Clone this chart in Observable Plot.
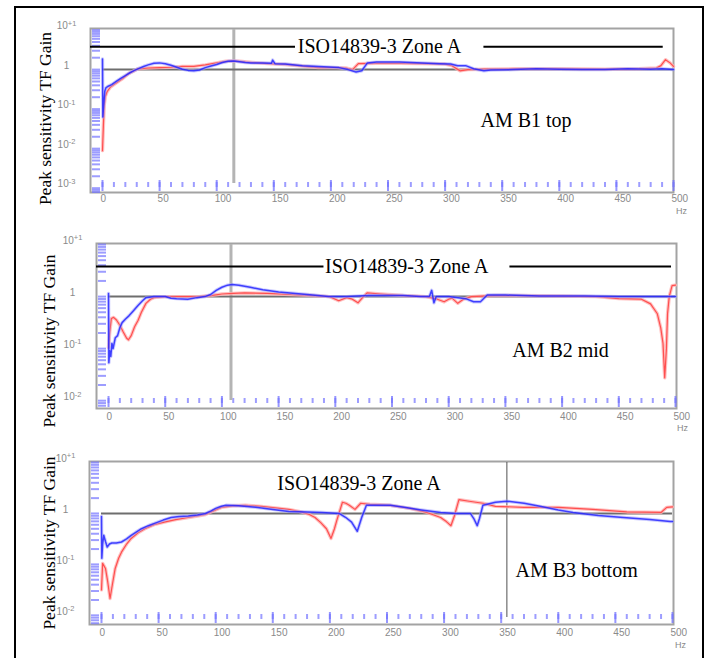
<!DOCTYPE html>
<html><head><meta charset="utf-8">
<script src="https://cdn.jsdelivr.net/npm/d3@7"></script>
<script src="https://cdn.jsdelivr.net/npm/@observablehq/plot@0.6"></script>
<style>
html,body{margin:0;padding:0;background:#fff;}
#wrap{position:relative;width:710px;height:658px;overflow:hidden;background:#fff;}
#border{position:absolute;left:14px;top:6px;width:690px;height:700px;border:2px solid #000;box-sizing:border-box;}
.panel{position:absolute;left:0;}
</style></head><body><div id="wrap"><div id="border"></div></div>
<script>
// ---------- chart content ----------
const freqMajorTicks = [0, 50, 100, 150, 200, 250, 300, 350, 400, 450, 500];
const freqMinorTicks = [0,10,20,30,40,50,60,70,80,90,100,110,120,130,140,150,160,170,180,190,200,210,220,230,240,250,260,270,280,290,300,310,320,330,340,350,360,370,380,390,400,410,420,430,440,450,460,470,480,490,500];
const gainTickValues = [10, 1, 0.1, 0.01, 0.001];
const gainTickLabels = ["10^+1", "1", "10^-1", "10^-2", "10^-3"];
const yAxisTitle = "Peak sensitivity TF Gain";
const xUnit = "Hz";
const zoneALabel = "ISO14839-3 Zone A";
const zoneAGain = 3.8;
const referenceGain = 1;
const panelNames = ["AM B1 top", "AM B2 mid", "AM B3 bottom"];
const cursorHz = [115, 108, 355];

// series: [frequency Hz, log10(gain)]
const amb1Blue = [[0,0.27],[0.3,-1.2],[1,-0.9],[2,-0.55],[3,-0.46],[5,-0.42],[8,-0.38],[12,-0.3],[16,-0.22],[20,-0.15],[24,-0.08],[28,-0.02],[32,0.03],[36,0.08],[40,0.12],[45,0.16],[50,0.17],[55,0.15],[60,0.11],[65,0.06],[70,0.01],[75,-0.02],[80,-0.03],[85,-0.01],[90,0.05],[95,0.09],[100,0.13],[105,0.18],[110,0.21],[115,0.22],[120,0.2],[125,0.18],[130,0.17],[140,0.17],[148,0.16],[149,0.24],[151,0.15],[160,0.14],[175,0.1],[189,0.08],[207,0.05],[215,0.0],[222,-0.06],[227,-0.03],[232,0.17],[240,0.19],[260,0.19],[280,0.17],[295,0.15],[305,0.14],[311,0.1],[318,0.1],[325,0.02],[334,-0.03],[340,-0.01],[360,0.0],[380,0.02],[400,0.01],[420,0.0],[440,0.0],[460,0.02],[480,0.01],[490,0.02],[500,0.0]];
const amb1Red = [[0,-2.05],[0.8,-1.4],[1.5,-0.9],[2.5,-0.68],[4,-0.56],[7,-0.44],[10,-0.38],[14,-0.3],[18,-0.22],[23,-0.1],[27,-0.04],[31,0.02],[40,0.04],[50,0.05],[60,0.06],[70,0.08],[80,0.08],[90,0.12],[100,0.17],[108,0.21],[114,0.22],[120,0.21],[131,0.18],[145,0.15],[160,0.13],[175,0.09],[189,0.05],[205,0.05],[213,0.04],[219,0.0],[224,0.15],[240,0.16],[260,0.16],[280,0.15],[300,0.14],[306,0.1],[313,-0.03],[320,0.0],[335,0.01],[360,0.02],[400,0.02],[440,0.01],[470,0.02],[485,0.04],[489,0.1],[493,0.25],[497,0.17],[500,0.08]];
const amb2Blue = [[0,0.06],[0.3,-1.27],[1,-1.04],[2,-1.15],[3,-0.9],[4,-1.0],[6,-0.79],[8,-0.75],[10,-0.6],[12,-0.5],[15,-0.43],[18,-0.37],[22,-0.27],[26,-0.17],[30,-0.08],[33,-0.02],[40,0.0],[50,0.0],[55,-0.03],[60,-0.04],[70,-0.05],[78,-0.02],[85,0.0],[90,0.04],[95,0.12],[100,0.18],[105,0.22],[109,0.23],[115,0.22],[125,0.18],[136,0.13],[150,0.09],[165,0.06],[180,0.03],[194,0.0],[210,0.0],[230,0.02],[245,0.02],[260,0.02],[275,0.0],[283,0.0],[285,0.12],[287,-0.12],[289,0.0],[300,0.0],[315,-0.04],[322,-0.1],[328,-0.1],[334,0.03],[350,0.03],[380,0.01],[420,0.01],[450,0.0],[480,0.0],[500,0.0]];
const amb2Red = [[0,-0.98],[1,-0.7],[2.5,-0.42],[4.5,-0.4],[7,-0.45],[10,-0.55],[13,-0.68],[16,-0.8],[17.6,-0.83],[20,-0.75],[23,-0.58],[26,-0.46],[29,-0.3],[33,-0.13],[37,-0.05],[40,-0.02],[50,0.0],[60,0.0],[70,0.0],[80,0.0],[90,0.02],[100,0.05],[110,0.06],[120,0.07],[140,0.06],[160,0.04],[180,0.02],[195,0.0],[203,-0.08],[210,-0.02],[215,-0.05],[220,-0.12],[224,-0.02],[228,0.07],[240,0.05],[260,0.02],[280,0.0],[290,-0.05],[296,-0.1],[300,-0.05],[303,-0.03],[308,-0.13],[313,-0.05],[320,0.0],[340,0.02],[360,0.02],[400,0.01],[430,0.0],[450,-0.04],[470,-0.05],[478,-0.14],[484,-0.33],[487,-0.6],[489,-0.9],[490.5,-1.56],[492,-1.0],[493,-0.33],[494.5,0.0],[497,0.21],[500,0.22]];
const amb3Blue = [[0,-0.06],[0.3,-0.88],[1,-0.6],[2,-0.43],[3.5,-0.55],[5,-0.66],[7,-0.6],[9,-0.58],[13,-0.58],[17.5,-0.56],[22,-0.5],[26,-0.43],[30,-0.37],[35,-0.3],[41,-0.24],[47,-0.19],[54,-0.13],[61,-0.08],[68,-0.06],[76,-0.05],[84,-0.03],[91,0.0],[96,0.05],[100,0.1],[105,0.14],[109,0.16],[120,0.15],[135,0.12],[150,0.08],[164,0.04],[180,0.03],[193,0.02],[208,0.0],[214,-0.08],[219,-0.17],[224,-0.35],[228,-0.07],[232,0.16],[245,0.16],[253,0.16],[265,0.12],[280,0.07],[297,0.02],[310,0.0],[323,0.0],[326,-0.1],[329,-0.24],[331,-0.1],[334,0.16],[345,0.22],[355,0.24],[370,0.2],[384,0.14],[400,0.07],[413,0.02],[435,-0.04],[457,-0.08],[480,-0.12],[498,-0.16],[500,-0.16]];
const amb3Red = [[0,-1.5],[1,-0.98],[3.5,-1.08],[5.5,-1.35],[7.5,-1.67],[9.5,-1.4],[12,-1.08],[15,-0.88],[17.5,-0.76],[22,-0.6],[26,-0.49],[32,-0.38],[38,-0.3],[46,-0.22],[55,-0.17],[65,-0.12],[76,-0.08],[84,-0.05],[91,-0.02],[98,0.05],[105,0.12],[115,0.15],[126,0.16],[140,0.14],[152,0.11],[164,0.08],[175,0.03],[182,-0.02],[187,-0.08],[192,-0.18],[197,-0.3],[201,-0.49],[204,-0.3],[206,-0.14],[211,0.22],[214,0.2],[217,0.16],[222,0.08],[227,0.2],[235,0.18],[253,0.16],[270,0.1],[285,0.02],[297,-0.08],[302,-0.16],[306,-0.24],[309,-0.05],[313,0.27],[322,0.24],[334,0.2],[345,0.14],[370,0.12],[400,0.12],[430,0.08],[460,0.03],[490,0.02],[495,0.12],[500,0.13]];

const blueSeries = [amb1Blue, amb2Blue, amb3Blue];
const redSeries = [amb1Red, amb2Red, amb3Red];

// ---------- layout (positions & styles) ----------
const layout = [
  {top:0, h:220, mt:28, mb:28, ml:90, mr:37, xDom:[-10.5,500], yExp:[-3.11,1.04],
   cursor:{stroke:"#b4b4b4", w:3, insetBottom:9},
   zoneSegs:[[-10.5,169],[334,491]], zoneTextHz:171,
   nameHz:331, nameExp:-1.29, titleDx:-45, titleDy:8, hzDx:8, hzDy:21, xPad:2},
  {top:220, h:220, mt:23, mb:32, ml:96, mr:34, xDom:[-10.6,500.9], yExp:[-2.15,1.02],
   cursor:{stroke:"#b4b4b4", w:3, insetBottom:8},
   zoneSegs:[[-10.6,190],[354,496.5]], zoneTextHz:191,
   nameHz:356, nameExp:-1.04, titleDx:-47, titleDy:15, hzDx:6, hzDy:22, xPad:4},
  {top:440, h:218, mt:21, mb:34, ml:89, mr:37, xDom:[-10.5,500.9], yExp:[-2.18,1.02],
   cursor:{stroke:"#505050", w:1, insetBottom:7},
   zoneSegs:[], zoneTextHz:154,
   nameHz:362.5, nameExp:-1.12, titleDx:-40, titleDy:0, hzDx:7, hzDy:23, xPad:4}
];

const serif = "Liberation Serif, Times New Roman, serif";
const tickBlue = "#7373ff";

function drawPanel(i) {
  const L = layout[i];
  const W = 710;
  const plotW = W - L.ml - L.mr, plotH = L.h - L.mt - L.mb;
  const toPts = s => s.map(([f, e]) => ({f, g: Math.pow(10, e)}));
  const blue = toPts(blueSeries[i]);
  const red = toPts(redSeries[i]);
  const yLo = Math.pow(10, L.yExp[0]), yHi = Math.pow(10, L.yExp[1]);
  const logTicks = d3.scaleLog().domain([yLo, yHi]).ticks();
  const labTicks = gainTickValues.filter(v => v >= yLo * 0.999 && v <= yHi * 1.001);
  const marks = [
    Plot.frame({stroke: "#a3a3a3", strokeWidth: 2}),
    Plot.tickY(logTicks, {y: d => d, stroke: tickBlue, strokeWidth: 2, strokeOpacity: 0.7, insetLeft: 2, insetRight: plotW - 10}),
    Plot.tickX(freqMinorTicks, {x: d => d, stroke: tickBlue, strokeWidth: 2, strokeOpacity: 0.7, insetTop: plotH - 10, insetBottom: 5}),
    Plot.tickX(freqMajorTicks, {x: d => d, stroke: tickBlue, strokeWidth: 2, strokeOpacity: 0.75, insetTop: plotH - 12, insetBottom: 1}),
    Plot.ruleX([cursorHz[i]], {x: d => d, stroke: L.cursor.stroke, strokeWidth: L.cursor.w, insetBottom: L.cursor.insetBottom, insetTop: 1}),
    Plot.ruleY([referenceGain], {y: d => d, x1: 0, x2: freqMajorTicks[freqMajorTicks.length-1], stroke: "#6e6e6e", strokeWidth: 2}),
    ...L.zoneSegs.map(([a, b]) => Plot.ruleY([zoneAGain], {y: d => d, x1: a, x2: b, stroke: "#000", strokeWidth: 2})),
    Plot.text([{f: L.zoneTextHz, g: zoneAGain, t: zoneALabel}], {x: "f", y: "g", text: "t", textAnchor: "start", fontFamily: serif, fontSize: 20, fill: "#000"}),
    Plot.line(red, {x: "f", y: "g", stroke: "#ffb0b0", strokeWidth: 3.4, strokeOpacity: 0.8}),
    Plot.line(red, {x: "f", y: "g", stroke: "#ff4f4f", strokeWidth: 1.2}),
    Plot.line(blue, {x: "f", y: "g", stroke: "#a0a0ff", strokeWidth: 3.4, strokeOpacity: 0.55}),
    Plot.line(blue, {x: "f", y: "g", stroke: "#1c1cff", strokeWidth: 1.5, strokeOpacity: 0.8}),
    Plot.text([{f: L.nameHz, g: Math.pow(10, L.nameExp), t: panelNames[i]}], {x: "f", y: "g", text: "t", textAnchor: "start", fontFamily: serif, fontSize: 20, fill: "#000"}),
    Plot.text([yAxisTitle], {text: d => d, frameAnchor: "left", textAnchor: "middle", rotate: -90, dx: L.titleDx, dy: L.titleDy, fontFamily: serif, fontSize: 17.5, fill: "#000"}),
    Plot.text([xUnit], {text: d => d, frameAnchor: "bottom-right", textAnchor: "middle", dx: L.hzDx, dy: L.hzDy, fontSize: 9, fill: "#888"}),
    Plot.axisY({ticks: labTicks, tickSize: 0, tickPadding: 24, textAnchor: "middle", dy: -4, fill: "#8a8a8a", fontSize: 10, label: null,
      tickFormat: v => gainTickLabels[gainTickValues.indexOf(v)]}),
    Plot.axisX({ticks: freqMajorTicks, tickSize: 0, tickPadding: L.xPad, textAnchor: "start", dx: -2, fill: "#8a8a8a", fontSize: 10, label: null,
      tickFormat: v => String(v)})
  ];
  const svg = Plot.plot({
    width: W, height: L.h,
    marginTop: L.mt, marginBottom: L.mb, marginLeft: L.ml, marginRight: L.mr,
    x: {domain: L.xDom, label: null},
    y: {type: "log", domain: [yLo, yHi], label: null},
    style: {fontFamily: "Liberation Sans, Arial, sans-serif", fontSize: "10px", background: "transparent", overflow: "visible"},
    marks
  });
  d3.select(svg).selectAll("text").filter(function() { return this.textContent.includes("^"); }).each(function() {
    const [base, exp] = this.textContent.split("^");
    const t = d3.select(this);
    t.text(null);
    t.append("tspan").text(base);
    t.append("tspan").attr("dy", "-0.45em").attr("font-size", "7.5px").text(exp);
  });
  svg.classList.add("panel");
  svg.style.top = L.top + "px";
  svg.style.position = "absolute";
  svg.style.left = "0px";
  document.getElementById("wrap").appendChild(svg);
}
[0, 1, 2].forEach(drawPanel);
</script></body></html>
